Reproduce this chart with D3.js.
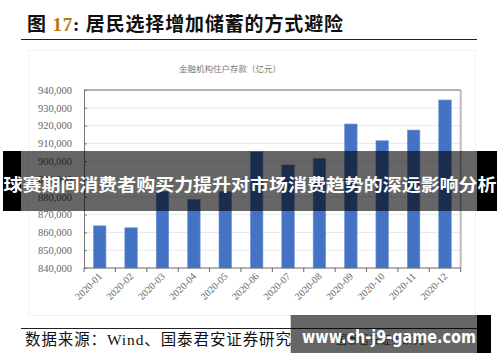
<!DOCTYPE html>
<html><head><meta charset="utf-8">
<script src="https://cdn.jsdelivr.net/npm/d3@7"></script>
<style>html,body{margin:0;padding:0;background:#fff;}svg{display:block;}</style>
</head><body>
<svg id="chart" width="500" height="362"></svg>
<script>
const months = ["2020-01","2020-02","2020-03","2020-04","2020-05","2020-06","2020-07","2020-08","2020-09","2020-10","2020-11","2020-12"];
const deposits = [863700, 862600, 883000, 878600, 883000, 905200, 897900, 901600, 920900, 911500, 917500, 934400];
const yTicks = [840000, 850000, 860000, 870000, 880000, 890000, 900000, 910000, 920000, 930000, 940000];
const titlePrefix = "图 ";
const titleNum = "17";
const titleRest = ":  居民选择增加储蓄的方式避险";
const subtitle = "金融机构住户存款（亿元）";
const sourceText = "数据来源：Wind、国泰君安证券研究";
const bannerText = "球赛期间消费者购买力提升对市场消费趋势的深远影响分析";
const watermark = "www.ch-j9-game.com";

(function(){
const svg = d3.select("#chart");
svg.append("rect").attr("width",500).attr("height",362).attr("fill","#fff");

const serif = "'Liberation Serif','Times New Roman','Noto Sans CJK SC',serif";
const cjk = "'Noto Sans CJK SC','Noto Sans',sans-serif";

// Title
const t = svg.append("text").attr("x",27).attr("y",31)
  .attr("font-family",serif).attr("font-weight","bold").attr("font-size",19).attr("fill","#111")
  .attr("textLength",316).attr("lengthAdjust","spacing");
t.append("tspan").text(titlePrefix);
t.append("tspan").attr("fill","#b8780a").text(titleNum);
t.append("tspan").text(titleRest);
svg.append("line").attr("x1",21).attr("x2",477).attr("y1",39.5).attr("y2",39.5).attr("stroke","#222").attr("stroke-width",1.2);

// chart panel (faint)
svg.append("rect").attr("x",28.5).attr("y",50.5).attr("width",447).attr("height",265)
  .attr("fill","none").attr("stroke","#f2f2f2");

svg.append("text").attr("x",230).attr("y",72).attr("text-anchor","middle")
  .attr("font-family",cjk).attr("font-size",8.5).attr("fill","#777").text(subtitle);

// scales
const pLeft = 84, pRight = 460.7, pTop = 90, pBottom = 268;
const x = d3.scaleBand().domain(months).range([pLeft,pRight]).paddingInner(0.6).paddingOuter(0.3);
const y = d3.scaleLinear().domain([840000,940000]).range([pBottom,pTop]);

// gridlines
svg.append("g").selectAll("line").data(yTicks.slice(1,-1)).join("line")
  .attr("x1",pLeft).attr("x2",pRight).attr("y1",d=>y(d)).attr("y2",d=>y(d))
  .attr("stroke","#e8e8e8").attr("stroke-width",1);

// bars
svg.append("g").selectAll("rect").data(deposits).join("rect")
  .attr("x",(d,i)=>x(months[i])).attr("width",x.bandwidth())
  .attr("y",d=>y(d)).attr("height",d=>pBottom-y(d))
  .attr("fill","#4472c4").attr("stroke","#7a9ad6").attr("stroke-width",0.6);

// border top & right
svg.append("line").attr("x1",pLeft).attr("x2",pRight).attr("y1",pTop).attr("y2",pTop).attr("stroke","#666").attr("stroke-width",1);
svg.append("line").attr("x1",pRight).attr("x2",pRight).attr("y1",pTop).attr("y2",pBottom).attr("stroke","#bbb").attr("stroke-width",2);

// y axis
const yAxis = d3.axisLeft(y).tickValues(yTicks).tickSize(-3).tickPadding(12).tickFormat(d3.format(","));
const gy = svg.append("g").attr("transform",`translate(${pLeft},0)`).call(yAxis);
gy.select(".domain").attr("stroke","#777");
gy.selectAll(".tick line").attr("stroke","#777");
gy.selectAll("text").attr("font-family",serif).attr("font-size",10.5).attr("fill","#666");

// x axis
const gx = svg.append("g").attr("transform",`translate(0,${pBottom})`);
gx.append("line").attr("x1",pLeft).attr("x2",pRight).attr("stroke","#666");
const bounds = months.map(m=>x(m)-x.step()*x.paddingInner()/2).concat([pRight]);
gx.selectAll("line.tk").data(bounds).join("line").attr("class","tk")
  .attr("x1",d=>d).attr("x2",d=>d).attr("y1",0).attr("y2",4).attr("stroke","#666");
gx.selectAll("text").data(months).join("text")
  .attr("transform",d=>`translate(${x(d)+x.bandwidth()/2+3},${9}) rotate(-45)`)
  .attr("text-anchor","end").attr("font-family",serif).attr("font-size",10).attr("fill","#666")
  .text(d=>d);

// bottom source
svg.append("line").attr("x1",21).attr("x2",477).attr("y1",328.5).attr("y2",328.5).attr("stroke","#222").attr("stroke-width",1);
svg.append("text").attr("x",25).attr("y",345).attr("font-family",serif).attr("font-size",15.5).attr("fill","#111")
  .attr("textLength",266).attr("lengthAdjust","spacing").text(sourceText);
svg.append("text").attr("x",380).attr("y",344).attr("text-anchor","middle").attr("font-family",cjk).attr("font-size",11).attr("fill","#555").text("国泰君安证券研究");

// banner overlay
svg.append("rect").attr("x",3).attr("y",151).attr("width",18).attr("height",60).attr("fill","#000");
svg.append("rect").attr("x",477).attr("y",151).attr("width",20).attr("height",60).attr("fill","#000");
svg.append("rect").attr("x",21).attr("y",151).attr("width",456).attr("height",60).attr("fill","rgba(0,0,0,0.6)");
svg.append("text").attr("x",250).attr("y",183).attr("text-anchor","middle").attr("dominant-baseline","central")
  .attr("font-family",cjk).attr("font-weight","bold").attr("font-size",17.6).attr("fill","#fff")
  .attr("textLength",493).attr("lengthAdjust","spacingAndGlyphs").text(bannerText);

// watermark
svg.append("rect").attr("x",290.7).attr("y",315).attr("width",186.3).attr("height",38).attr("fill","rgba(0,0,0,0.6)");
svg.append("rect").attr("x",477).attr("y",315).attr("width",14).attr("height",38).attr("fill","#000");
svg.append("text").attr("x",302).attr("y",343).attr("font-family","'DejaVu Sans',sans-serif").attr("font-weight","bold")
  .attr("font-size",17).attr("fill","#fff").attr("textLength",174).attr("lengthAdjust","spacingAndGlyphs").text(watermark);
})();
</script>
</body></html>
